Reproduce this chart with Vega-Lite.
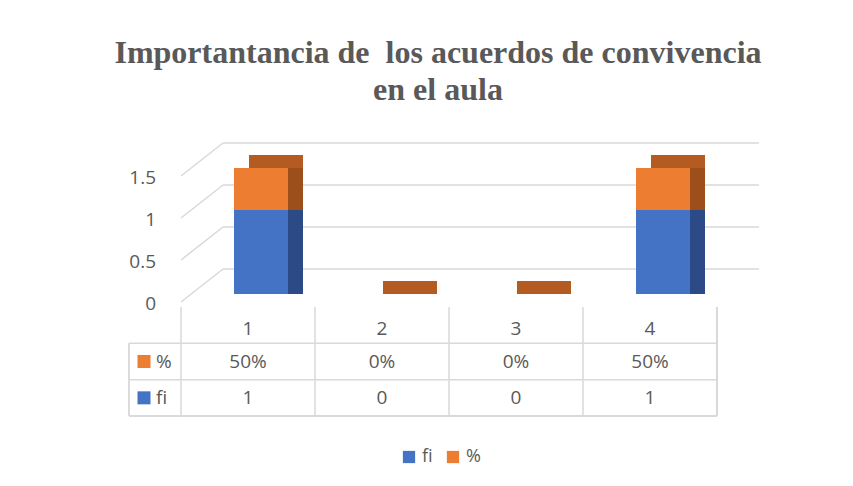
{
  "$schema": "https://vega.github.io/schema/vega-lite/v6.json",
  "background": "white",
  "padding": {"left": 114, "top": 37, "right": 5, "bottom": 5},
  "title": {
    "text": ["Importantancia de \u00a0los acuerdos de convivencia", "en el aula"],
    "font": "Liberation Serif",
    "fontSize": 32,
    "fontWeight": "bold",
    "color": "#595959",
    "anchor": "middle",
    "frame": "bounds",
    "lineHeight": 37,
    "offset": 21,
    "dx": -6
  },
  "config": {"view": {"stroke": null}, "font": "Open Sans"},
  "datasets": {
    "series": [
      {"cat": "1", "serie": "fi", "valor": 1},
      {"cat": "2", "serie": "fi", "valor": 0},
      {"cat": "3", "serie": "fi", "valor": 0},
      {"cat": "4", "serie": "fi", "valor": 1},
      {"cat": "1", "serie": "%", "valor": 0.5},
      {"cat": "2", "serie": "%", "valor": 0},
      {"cat": "3", "serie": "%", "valor": 0},
      {"cat": "4", "serie": "%", "valor": 0.5}
    ],
    "grid": [{"v": 0}, {"v": 0.5}, {"v": 1}, {"v": 1.5}]
  },
  "columns": 2,
  "spacing": {"row": 13, "column": 0},
  "align": "each",
  "bounds": "flush",
  "concat": [
    {
      "width": 52,
      "height": 126,
      "data": {"values": [{}]},
      "mark": {"type": "text", "text": ""},
      "encoding": {}
    },
    {
      "width": 536,
      "height": 126,
      "layer": [
        {
          "data": {"name": "grid"},
          "mark": {"type": "rule", "color": "#d9d9d9", "strokeWidth": 1.5, "xOffset": 42, "x2Offset": 42, "yOffset": -25, "y2Offset": -25},
          "encoding": {
            "x": {"datum": "1", "type": "nominal", "bandPosition": 0, "axis": null,
                  "scale": {"type": "band", "paddingInner": 0, "paddingOuter": 0}},
            "x2": {"datum": "4", "bandPosition": 1},
            "y": {"field": "v", "type": "quantitative", "axis": null,
                  "scale": {"domain": [0, 1.5], "nice": false, "zero": true}},
            "y2": {"field": "v"}
          }
        },
        {
          "data": {"name": "grid"},
          "mark": {"type": "rule", "color": "#d9d9d9", "strokeWidth": 1.5, "xOffset": 0.01, "x2Offset": 42, "yOffset": 8, "y2Offset": -25},
          "encoding": {
            "x": {"datum": "1", "type": "nominal", "bandPosition": 0, "axis": null},
            "x2": {"datum": "1", "bandPosition": 0},
            "y": {"field": "v", "type": "quantitative", "axis": null},
            "y2": {"field": "v"}
          }
        },
        {
          "data": {"name": "grid"},
          "mark": {"type": "text", "align": "right", "baseline": "middle", "fontSize": 19, "color": "#595959", "font": "Open Sans", "xOffset": -25, "yOffset": 9.5},
          "encoding": {
            "x": {"datum": "1", "type": "nominal", "bandPosition": 0, "axis": null},
            "y": {"field": "v", "type": "quantitative", "axis": null},
            "text": {"field": "v", "type": "quantitative", "format": "~g"}
          }
        },
        {
          "data": {"name": "series"},
          "transform": [
            {"stack": "valor", "groupby": ["cat"], "sort": [{"field": "serie", "order": "descending"}], "as": ["v0", "v1"]}
          ],
          "mark": {"type": "rule", "strokeWidth": 54, "strokeCap": "butt", "xOffset": 28, "yOffset": -13, "y2Offset": 0.01},
          "encoding": {
            "x": {"field": "cat", "type": "nominal", "axis": null},
            "y": {"field": "v1", "type": "quantitative", "axis": null},
            "y2": {"field": "v0"},
            "color": {"condition": {"test": "datum.serie === 'fi'", "value": "#2C4B86"}, "value": "#9C4E1B"}
          }
        },
        {
          "data": {"name": "series"},
          "transform": [
            {"stack": "valor", "groupby": ["cat"], "sort": [{"field": "serie", "order": "descending"}], "as": ["v0", "v1"]},
            {"filter": "datum.serie === '%'"}
          ],
          "mark": {"type": "rule", "strokeWidth": 54, "strokeCap": "butt", "xOffset": 28, "yOffset": -13, "y2Offset": 0.01, "color": "#B35B21"},
          "encoding": {
            "x": {"field": "cat", "type": "nominal", "axis": null},
            "y": {"field": "v1", "type": "quantitative", "axis": null},
            "y2": {"field": "v1"}
          }
        },
        {
          "data": {"name": "series"},
          "mark": {"type": "bar", "width": 54, "xOffset": 13},
          "encoding": {
            "x": {"field": "cat", "type": "nominal", "axis": null},
            "y": {"field": "valor", "type": "quantitative", "stack": "zero", "axis": null},
            "order": {"field": "serie", "sort": "descending"},
            "color": {
              "field": "serie", "type": "nominal",
              "scale": {"domain": ["fi", "%"], "range": ["#4472C4", "#ED7D31"]},
              "legend": {
                "title": null, "orient": "none", "legendX": 271, "legendY": 280,
                "direction": "horizontal", "symbolType": "square", "symbolSize": 150,
                "symbolStrokeWidth": 0, "labelFontSize": 18, "labelColor": "#595959",
                "labelFont": "Open Sans", "columnPadding": 11, "labelOffset": 4
              }
            }
          }
        }
      ]
    },
    {
      "width": 52,
      "height": 109,
      "data": {"name": "series"},
      "transform": [{"filter": "datum.cat === '1'"}],
      "layer": [
        {
          "mark": {"type": "rule", "color": "#d9d9d9", "strokeWidth": 1.5},
          "encoding": {
            "y": {"field": "serie", "type": "nominal", "bandPosition": 0, "axis": null,
                  "scale": {"type": "band", "domain": ["h", "%", "fi"], "paddingInner": 0, "paddingOuter": 0}}
          }
        },
        {
          "mark": {"type": "rule", "color": "#d9d9d9", "strokeWidth": 1.5},
          "encoding": {
            "y": {"datum": "fi", "type": "nominal", "bandPosition": 1, "axis": null}
          }
        },
        {
          "mark": {"type": "rule", "color": "#d9d9d9", "strokeWidth": 1.5},
          "encoding": {
            "x": {"datum": "k", "type": "nominal", "bandPosition": 0, "axis": null,
                  "scale": {"type": "band", "paddingInner": 0, "paddingOuter": 0}},
            "y": {"datum": "%", "type": "nominal", "bandPosition": 0, "axis": null},
            "y2": {"datum": "fi", "bandPosition": 1}
          }
        },
        {
          "mark": {"type": "point", "shape": "square", "filled": true, "opacity": 1, "size": 169, "xOffset": -11},
          "encoding": {
            "x": {"datum": "k", "type": "nominal", "axis": null},
            "y": {"field": "serie", "type": "nominal", "axis": null},
            "color": {"condition": {"test": "datum.serie === '%'", "value": "#ED7D31"}, "value": "#4472C4"}
          }
        },
        {
          "mark": {"type": "text", "align": "left", "fontSize": 19, "xOffset": 1, "color": "#595959", "font": "Open Sans"},
          "encoding": {
            "x": {"datum": "k", "type": "nominal", "axis": null},
            "y": {"field": "serie", "type": "nominal", "axis": null},
            "text": {"field": "serie"}
          }
        }
      ]
    },
    {
      "width": 536,
      "height": 109,
      "data": {"name": "series"},
      "layer": [
        {
          "transform": [{"filter": "datum.serie === 'fi'"}],
          "mark": {"type": "rule", "color": "#d9d9d9", "strokeWidth": 1.5},
          "encoding": {
            "x": {"field": "cat", "type": "nominal", "bandPosition": 0, "axis": null,
                  "scale": {"type": "band", "paddingInner": 0, "paddingOuter": 0}}
          }
        },
        {
          "mark": {"type": "rule", "color": "#d9d9d9", "strokeWidth": 1.5},
          "encoding": {
            "x": {"datum": "4", "type": "nominal", "bandPosition": 1, "axis": null}
          }
        },
        {
          "transform": [{"filter": "datum.cat === '1'"}],
          "mark": {"type": "rule", "color": "#d9d9d9", "strokeWidth": 1.5},
          "encoding": {
            "y": {"field": "serie", "type": "nominal", "bandPosition": 0, "axis": null,
                  "scale": {"type": "band", "domain": ["h", "%", "fi"], "paddingInner": 0, "paddingOuter": 0}}
          }
        },
        {
          "mark": {"type": "rule", "color": "#d9d9d9", "strokeWidth": 1.5},
          "encoding": {
            "y": {"datum": "fi", "type": "nominal", "bandPosition": 1, "axis": null}
          }
        },
        {
          "transform": [{"filter": "datum.serie === 'fi'"}],
          "mark": {"type": "text", "fontSize": 19, "color": "#595959", "font": "Open Sans", "yOffset": 4},
          "encoding": {
            "x": {"field": "cat", "type": "nominal", "axis": null},
            "y": {"datum": "h", "type": "nominal", "axis": null},
            "text": {"field": "cat"}
          }
        },
        {
          "transform": [{"filter": "datum.serie === '%'"}],
          "mark": {"type": "text", "fontSize": 19, "color": "#595959", "font": "Open Sans"},
          "encoding": {
            "x": {"field": "cat", "type": "nominal", "axis": null},
            "y": {"field": "serie", "type": "nominal", "axis": null},
            "text": {"field": "valor", "type": "quantitative", "format": ".0%"}
          }
        },
        {
          "transform": [{"filter": "datum.serie === 'fi'"}],
          "mark": {"type": "text", "fontSize": 19, "color": "#595959", "font": "Open Sans"},
          "encoding": {
            "x": {"field": "cat", "type": "nominal", "axis": null},
            "y": {"field": "serie", "type": "nominal", "axis": null},
            "text": {"field": "valor", "type": "quantitative", "format": "d"}
          }
        }
      ]
    }
  ]
}
